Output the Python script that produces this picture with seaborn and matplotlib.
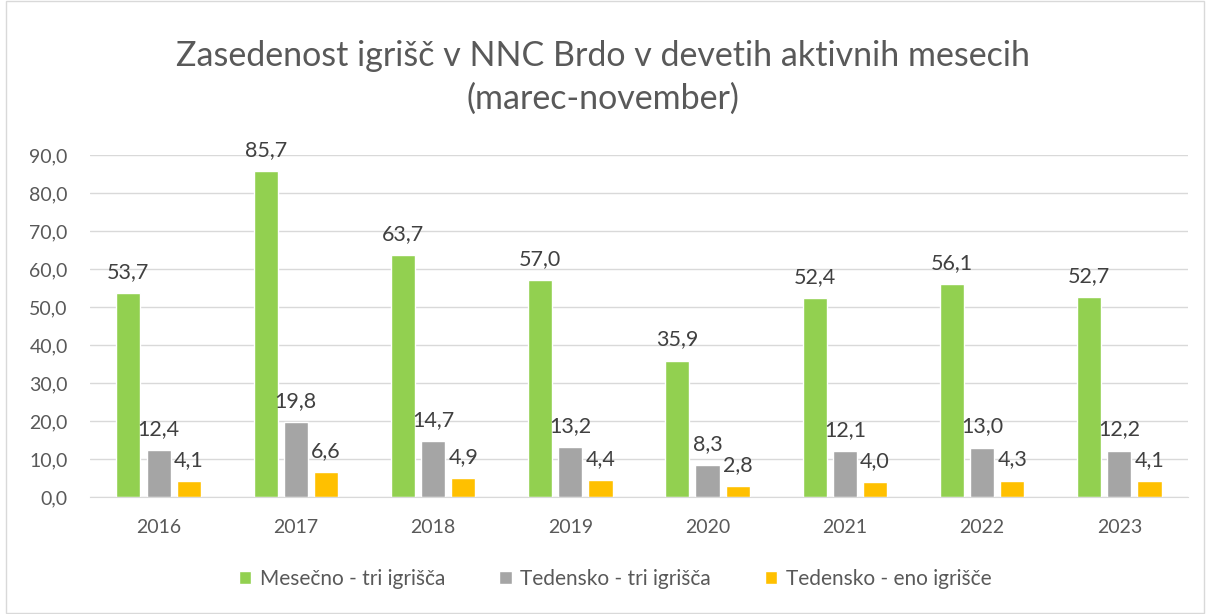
import pandas as pd
import numpy as np
import seaborn as sns
import matplotlib.pyplot as plt
from matplotlib.patches import Rectangle

years = ['2016', '2017', '2018', '2019', '2020', '2021', '2022', '2023']
mesecno_tri = [53.7, 85.7, 63.7, 57.0, 35.9, 52.4, 56.1, 52.7]
tedensko_tri = [12.4, 19.8, 14.7, 13.2, 8.3, 12.1, 13.0, 12.2]
tedensko_eno = [4.1, 6.6, 4.9, 4.4, 2.8, 4.0, 4.3, 4.1]
series_names = ['Mesečno - tri igrišča', 'Tedensko - tri igrišča', 'Tedensko - eno igrišče']
colors = ['#92d050', '#a5a5a5', '#ffc000']

data = pd.DataFrame({
    'Leto': np.tile(years, 3),
    'Vrednost': mesecno_tri + tedensko_tri + tedensko_eno,
    'Serija': np.repeat(series_names, len(years)),
})

sns.set_style('white')
plt.rcParams['font.family'] = ['Lato', 'DejaVu Sans']
txt = '#595959'

fig = plt.figure(figsize=(12.06, 6.14), dpi=100)
ax = fig.add_axes([0.0746, 0.1906, 0.9104, 0.557])

sns.barplot(data=data, x='Leto', y='Vrednost', hue='Serija', palette=colors,
            saturation=1, width=0.66, gap=0.2, ax=ax, legend=True)

# podatkovne oznake nad stolpci, z decimalno vejico
for cont in ax.containers:
    ax.bar_label(cont, labels=[f'{v:.1f}'.replace('.', ',') for v in cont.datavalues],
                 padding=8, fontsize=15.5, color='#404040')

ax.set_ylim(0, 90)
ax.set_yticks(np.arange(0, 91, 10))
ax.set_yticklabels([f'{v:.1f}'.replace('.', ',') for v in np.arange(0, 91, 10)])
ax.set_xlim(-0.5, len(years) - 0.5)
ax.grid(axis='y', color='#d9d9d9', linewidth=1)
ax.set_axisbelow(True)
for s in ['top', 'right', 'left']:
    ax.spines[s].set_visible(False)
ax.spines['bottom'].set_color('#d9d9d9')
ax.tick_params(axis='y', length=0, labelsize=14, labelcolor=txt, pad=16)
ax.tick_params(axis='x', length=0, labelsize=14, labelcolor=txt, pad=16)
ax.set_xlabel('')
ax.set_ylabel('')

fig.suptitle('Zasedenost igrišč v NNC Brdo v devetih aktivnih mesecih\n(marec-november)',
             y=0.935, fontsize=24.5, color=txt, linespacing=1.4)

handles, labels = ax.get_legend_handles_labels()
ax.get_legend().remove()
fig.legend(handles, labels, loc='center', bbox_to_anchor=(0.51, 0.057), ncol=3,
           frameon=False, fontsize=15, handlelength=0.6, handleheight=0.6,
           columnspacing=2.6, handletextpad=0.4, labelcolor=txt)

fig.patches.append(Rectangle((0.005, 0.002), 0.993, 0.996, transform=fig.transFigure,
                             fill=False, edgecolor='#d9d9d9', linewidth=1))

fig.savefig('out.png', dpi=100)
